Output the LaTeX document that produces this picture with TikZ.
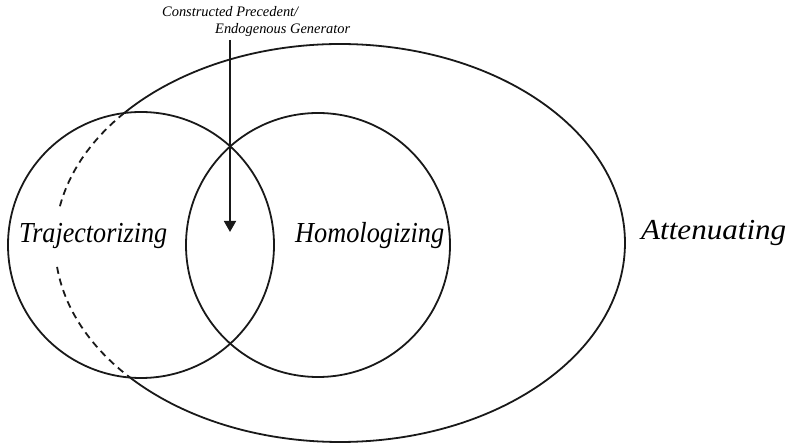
\documentclass[tikz,border=0pt]{standalone}
\usepackage{graphicx}
\usepackage{fontspec}
\setmainfont{Liberation Serif}
\usetikzlibrary{arrows.meta}
\newcommand{\fitw}[2]{\resizebox{#1}{\height}{#2}}
\begin{document}
\begin{tikzpicture}[x=1pt,y=1pt,
  lbl/.style={font=\fontsize{29}{32}\selectfont\itshape, inner sep=0pt, anchor=base west},
  small/.style={font=\fontsize{14.5}{16}\selectfont\itshape, inner sep=0pt, anchor=base west},
  ln/.style={line width=1.8pt, black!90}
]
\useasboundingbox (0,0) rectangle (792,444);
\node[circle, ln, draw, minimum size=266pt, inner sep=0pt] (L) at (141,199) {};
\node[circle, ln, draw, minimum size=264pt, inner sep=0pt] (M) at (318,199) {};
\coordinate (E) at (340,201);
\draw[ln] ([shift={(222.55:285 and 199)}]E) arc[start angle=222.55, end angle=499.25, x radius=285, y radius=199];
\draw[ln, dash pattern=on 7pt off 5pt] ([shift={(139.25:285 and 199)}]E) arc[start angle=139.25, end angle=169.9, x radius=285, y radius=199];
\draw[ln, dash pattern=on 7pt off 5pt] ([shift={(186.9:285 and 199)}]E) arc[start angle=186.9, end angle=222.55, x radius=285, y radius=199];
\coordinate (A0) at (230,404);
\coordinate (A1) at (230,212);
\draw[ln, -{Triangle[width=12pt,length=11pt]}] (A0) -- (A1);
\node[small] (t1) at (162,427) {\fitw{136pt}{Constructed Precedent/}};
\node[small] (t2) at (215,410) {\fitw{135pt}{Endogenous Generator}};
\node[lbl] (tr) at (19,201) {\fitw{148pt}{Trajectorizing}};
\node[lbl] (ho) at (295,201) {\fitw{149pt}{Homologizing}};
\node[lbl] (at) at (641,204) {\fitw{145pt}{Attenuating}};
\end{tikzpicture}
\end{document}
